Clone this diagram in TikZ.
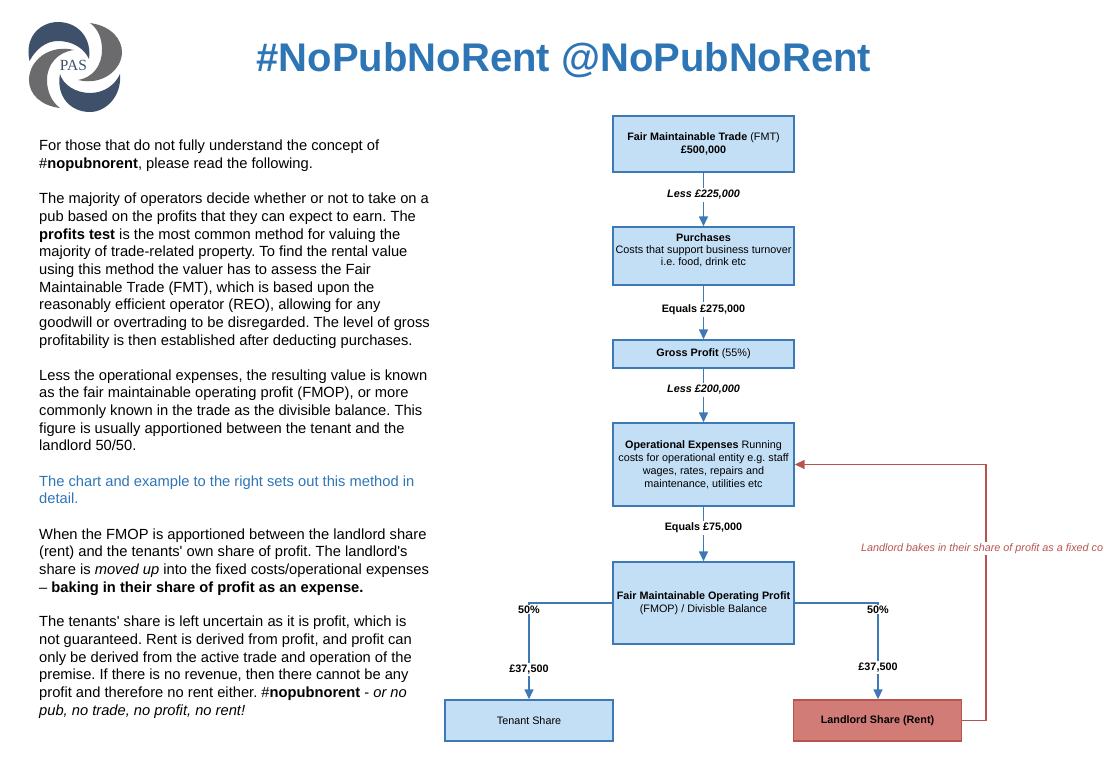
\documentclass[tikz,border=0pt]{standalone}
\usepackage{fontspec}
\setmainfont{Liberation Sans}
\newfontfamily\logofont{Liberation Serif}
\usetikzlibrary{arrows.meta}
\frenchspacing
\definecolor{boxfill}{HTML}{C3DFF6}
\definecolor{boxline}{HTML}{3D7AB5}
\definecolor{redfill}{HTML}{D27C78}
\definecolor{redline}{HTML}{B85450}
\definecolor{titleblue}{HTML}{2E75B6}
\definecolor{logoblue}{HTML}{3F506B}
\definecolor{logogrey}{HTML}{6B6B6E}
\newcommand{\liftbox}[2]{\raisebox{#1}[0pt][0pt]{\fontsize{10.8}{12}\selectfont\begin{tabular}{@{}c@{}}#2\end{tabular}}}
\newcommand{\sq}{\textquotesingle}
\tikzset{
 flowbox/.style={draw=boxline,fill=boxfill,line width=1.4pt,minimum width=181pt,align=center,inner sep=1pt,font=\fontsize{10.8}{13}\selectfont,text=black},
 redbox/.style={flowbox,draw=redline,fill=redfill,minimum width=168pt,minimum height=41pt},
 bluebox/.style={flowbox,minimum width=168pt,minimum height=41pt},
 link/.style={draw=boxline,line width=1.5pt},
 arrowlink/.style={link,-{Triangle[length=10pt,width=9pt]}},
 redlink/.style={draw=redline,line width=1.5pt,-{Triangle[length=10pt,width=9pt]}},
 lab/.style={fill=white,inner sep=2pt,font=\fontsize{10.8}{13}\selectfont\bfseries,text=black},
 para/.style={anchor=north west,align=left,inner sep=0pt,font=\fontsize{14.7}{17.65}\selectfont,text=black},
}
\begin{document}
\begin{tikzpicture}[x=1pt,y=-1pt]
\useasboundingbox (0,0) rectangle (1104,770);
\clip (0,0) rectangle (1104,770);
% logo
\fill[logoblue] (29.5,61) .. controls (24,35) and (42,22) .. (58,22) .. controls (78,22) and (92,38) .. (89,59) .. controls (84,48) and (72,41) .. (58,41) .. controls (46,41) and (36,49) .. (29.5,61) -- cycle;
\fill[logogrey] (90,23) .. controls (112,26) and (122,40) .. (122,52) .. controls (122,70) and (102,86) .. (78,80) .. controls (92,78) and (102,66) .. (102,50) .. controls (102,38) and (98,29) .. (90,23) -- cycle;
\fill[logoblue] (120,74) .. controls (122,96) and (106,112) .. (90,112) .. controls (70,112) and (56,96) .. (60,74) .. controls (63,85) and (76,93) .. (90,93) .. controls (104,93) and (115,85) .. (120,74) -- cycle;
\fill[logogrey] (74,50) .. controls (50,44) and (29,60) .. (29,80) .. controls (29,95) and (42,106) .. (60,108) .. controls (52,102) and (47,92) .. (47,80) .. controls (47,64) and (58,52) .. (74,50) -- cycle;
\node[logoblue,font=\logofont\fontsize{15.5}{16}\selectfont,inner sep=0pt] (logotext) at (73.5,65) {PAS};
% title
\node[text=titleblue,font=\fontsize{40}{44}\selectfont\bfseries,inner sep=0pt] (title) at (564,60) {\#NoPubNoRent @NoPubNoRent};
% text
\node[para] (p1) at (39,140) {For those that do not fully understand the concept of\\\#\textbf{nopubnorent}, please read the following.};
\node[para] (p2) at (39,193) {The majority of operators decide whether or not to take on a\\pub based on the profits that they can expect to earn. The\\\textbf{profits test} is the most common method for valuing the\\majority of trade-related property. To find the rental value\\using this method the valuer has to assess the Fair\\Maintainable Trade (FMT), which is based upon the\\reasonably efficient operator (REO), allowing for any\\goodwill or overtrading to be disregarded. The level of gross\\profitability is then established after deducting purchases.};
\node[para] (p3) at (39,369.4) {Less the operational expenses, the resulting value is known\\as the fair maintainable operating profit (FMOP), or more\\commonly known in the trade as the divisible balance. This\\figure is usually apportioned between the tenant and the\\landlord 50/50.};
\node[para,text=titleblue] (p4) at (39,475.4) {The chart and example to the right sets out this method in\\detail.};
\node[para] (p5) at (39,528.4) {When the FMOP is apportioned between the landlord share\\(rent) and the tenants\sq{} own share of profit. The landlord\sq{}s\\share is \textit{moved up} into the fixed costs/operational expenses\\– \textbf{baking in their share of profit as an expense.}};
\node[para] (p6) at (39,616) {The tenants\sq{} share is left uncertain as it is profit, which is\\not guaranteed. Rent is derived from profit, and profit can\\only be derived from the active trade and operation of the\\premise. If there is no revenue, then there cannot be any\\profit and therefore no rent either. \#\textbf{nopubnorent} - \textit{or no}\\\textit{pub, no trade, no profit, no rent!}};
% boxes
\node[flowbox,minimum height=56pt] (fmt) at (703.5,144) {\textbf{Fair Maintainable Trade} (FMT)\\\textbf{£500,000}};
\node[flowbox,minimum height=58pt] (pur) at (703.5,256) {\liftbox{2pt}{\textbf{Purchases}\\Costs that support business turnover\\i.e. food, drink etc}};
\node[flowbox,minimum height=28pt] (gp) at (703.5,354) {\textbf{Gross Profit} (55\%)};
\node[flowbox,minimum height=83pt] (opex) at (703.5,464.5) {\textbf{Operational Expenses} Running\\costs for operational entity e.g. staff\\wages, rates, repairs and\\maintenance, utilities etc};
\node[flowbox,minimum height=82pt] (fmop) at (703.5,603) {\textbf{Fair Maintainable Operating Profit}\\(FMOP) / Divisble Balance};
\node[bluebox] (tenant) at (529,720.5) {Tenant Share};
\node[redbox] (landlord) at (877.5,720.5) {\textbf{Landlord Share (Rent)}};
% connectors
\draw[arrowlink] (fmt) -- (pur);
\draw[arrowlink] (pur) -- (gp);
\draw[arrowlink] (gp) -- (opex);
\draw[arrowlink] (opex) -- (fmop);
\coordinate (lc) at (tenant.north |- fmop.west);
\coordinate (rc) at (878,603);
\draw[arrowlink] (fmop.west) -- (lc) -- (tenant.north);
\draw[arrowlink] (fmop.east) -- (rc) -- (rc |- landlord.north);
\node[lab] (l1) at (703.5,195) {\textit{Less £225,000}};
\node[lab] (l2) at (703.5,309.5) {Equals £275,000};
\node[lab] (l3) at (703.5,390) {\textit{Less £200,000}};
\node[lab] (l4) at (703.5,528) {Equals £75,000};
\node[lab,inner sep=1pt] (lp) at (529,609.5) {50\%};
\node[lab] (la) at (529,669.5) {£37,500};
\node[lab,inner sep=1pt] (rp) at (878,609.5) {50\%};
\node[lab] (ra) at (878,667.5) {£37,500};
\coordinate (rt) at (986,721);
\draw[redlink] (landlord.east) -- (rt |- landlord.east) -- (rt |- opex.east) -- (opex.east);
\node[text=redline,font=\fontsize{10.8}{13}\selectfont\itshape,fill=white,inner sep=1pt,anchor=west] (baked) at (860,548.5) {Landlord bakes in their share of profit as a fixed co};
\end{tikzpicture}
\end{document}
